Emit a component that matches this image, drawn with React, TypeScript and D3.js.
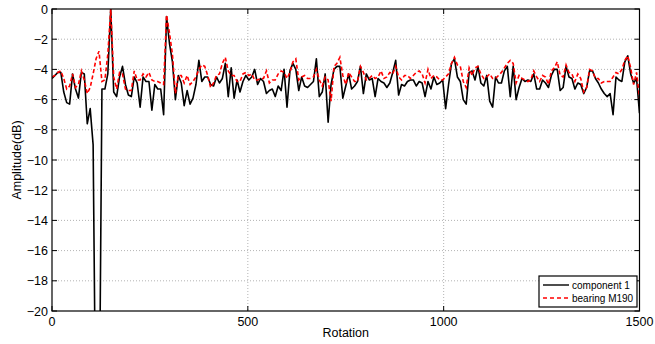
import React from "react";
import * as d3 from "d3";

// samples are taken every 7.5 rotations, 0..1500
const rotationStep = 7.5;

const component1 = [
  -4.6, -4.4, -4.2, -4.2, -5.5, -6.2, -6.3, -4.3, -5.3, -5.9,
  -4.2, -4.3, -7.6, -6.6, -9.0, -30, -30, -5.3, -5.3, -4.3,
  0, -5.5, -5.8, -4.5, -3.8, -5.0, -5.7, -5.8, -4.5, -4.9,
  -6.5, -4.5, -4.8, -4.8, -6.7, -5.0, -5.3, -5.3, -7.0, -0.5,
  -2.3, -3.5, -6.0, -4.4, -4.9, -6.4, -5.4, -6.3, -5.9, -5.0,
  -3.4, -4.8, -4.5, -4.5, -5.0, -5.1, -4.5, -4.9, -4.6, -3.6,
  -5.8, -3.9, -5.9, -4.7, -5.5, -4.8, -4.4, -4.7, -4.5, -4.0,
  -5.0, -4.6, -4.8, -5.6, -5.4, -5.3, -5.8, -5.1, -5.4, -4.0,
  -6.5, -4.1, -3.6, -4.0, -5.4, -4.5, -5.1, -5.2, -5.0, -4.8,
  -3.3, -5.8, -5.5, -4.3, -7.5, -5.0, -4.0, -3.8, -3.8, -5.9,
  -5.1, -4.3, -5.3, -5.1, -4.8, -3.8, -5.6, -4.3, -4.7, -4.6,
  -5.8, -4.6, -4.8, -4.9, -5.2, -4.9, -4.2, -3.4, -5.7, -5.0,
  -5.1, -4.8, -4.7, -4.7, -5.1, -4.8, -4.9, -5.8, -4.8, -5.3,
  -4.5, -5.0, -4.9, -4.7, -6.6, -5.0, -3.6, -3.3, -4.5, -4.8,
  -6.0, -6.3, -4.2, -4.1, -4.7, -3.8, -4.9, -5.1, -4.4, -6.1,
  -6.5, -4.5, -4.9, -4.9, -4.1, -3.8, -5.8, -3.8, -6.0, -5.2,
  -4.6, -4.8, -4.7, -4.8, -4.3, -5.3, -5.3, -4.7, -4.9, -5.2,
  -4.4, -4.0, -4.0, -5.4, -5.2, -3.8, -4.5, -4.6, -5.3, -4.9,
  -5.0, -5.6, -5.2, -4.1, -4.1, -4.6, -4.9, -5.3, -5.6, -5.8,
  -5.6, -7.0, -4.5, -4.7, -4.8, -3.5, -3.1, -4.3, -4.9, -4.6, -6.9,
];

const bearingM190 = [
  -4.5, -4.4, -4.2, -4.1, -4.6, -5.3, -5.1, -4.3, -5.2, -5.0,
  -4.1, -4.7, -5.6, -5.2, -4.3, -3.3, -2.8, -4.8, -4.7, -3.0,
  0, -4.5, -5.3, -4.2, -4.3, -5.3, -5.4, -5.4, -4.1, -4.7,
  -4.7, -4.3, -4.5, -4.2, -4.7, -4.8, -4.8, -4.9, -5.0, -0.4,
  -1.6, -3.0, -5.6, -4.4, -4.4, -4.9, -4.4, -5.0, -4.8, -4.5,
  -4.0, -3.7, -3.8, -4.4, -5.2, -4.9, -4.4, -4.3, -3.6, -3.2,
  -4.1, -4.4, -4.4, -4.8, -4.8, -4.3, -4.2, -4.4, -4.3, -4.7,
  -4.7, -4.6, -4.6, -4.1, -4.9, -4.7, -4.7, -4.3, -4.1, -4.2,
  -4.6, -4.2, -3.5, -3.3, -4.7, -4.5, -4.4, -4.6, -4.6, -4.5,
  -4.0, -4.7, -5.1, -4.5, -4.7, -6.1, -3.8, -3.6, -3.2, -4.4,
  -5.0, -4.2, -4.5, -4.8, -4.8, -3.8, -4.2, -4.7, -4.6, -4.4,
  -4.6, -4.5, -4.1, -4.6, -4.5, -4.2, -4.3, -3.8, -4.5, -4.7,
  -4.4, -4.4, -4.6, -4.4, -4.2, -4.1, -4.3, -4.9, -4.0, -4.6,
  -4.4, -4.5, -4.7, -4.7, -4.5, -4.3, -3.6, -3.2, -3.7, -3.8,
  -4.8, -5.2, -3.9, -4.4, -3.9, -3.8, -4.3, -4.6, -4.5, -4.3,
  -4.6, -4.6, -4.4, -4.2, -3.9, -3.6, -3.4, -3.6, -4.9, -4.4,
  -4.6, -4.7, -4.8, -4.7, -4.1, -4.5, -4.8, -4.4, -4.5, -5.0,
  -4.1, -3.9, -3.5, -4.4, -4.5, -3.7, -4.2, -4.3, -4.8, -4.3,
  -4.6, -5.5, -5.2, -4.0, -4.1, -4.6, -4.6, -4.9, -4.8, -4.8,
  -4.8, -4.5, -4.2, -4.3, -4.0, -3.4, -3.1, -3.9, -5.0, -4.2, -5.9,
];

const xTicks = [0, 500, 1000, 1500];
const yTicks = [0, -2, -4, -6, -8, -10, -12, -14, -16, -18, -20];

const font = "'Liberation Sans', Arial, Helvetica, sans-serif";

export default function App() {
  const width = 655;
  const height = 344;
  const left = 52;
  const right = 639.5;
  const top = 9;
  const bottom = 311;

  const x = d3.scaleLinear().domain([0, 1500]).range([left, right]);
  const y = d3.scaleLinear().domain([-20, 0]).range([bottom, top]);
  const fmt = d3.format("d");

  const line = d3
    .line<number>()
    .x((d, i) => x(i * rotationStep))
    .y((d) => y(d));

  const tick = 5;

  return (
    <svg
      width={width}
      height={height}
      style={{ position: "absolute", left: 0, top: 0, background: "#fff" }}
      fontFamily={font}
    >
      <defs>
        <clipPath id="plot">
          <rect x={left} y={top} width={right - left} height={bottom - top} />
        </clipPath>
      </defs>
      <rect x={left} y={top} width={right - left} height={bottom - top} fill="#fff" />

      {/* dotted grid */}
      {xTicks.slice(1, -1).map((t) => (
        <line key={"gx" + t} x1={x(t)} x2={x(t)} y1={top} y2={bottom}
          stroke="#a0a0a0" strokeWidth={0.8} strokeDasharray="1,2" />
      ))}
      {yTicks.slice(1, -1).map((t) => (
        <line key={"gy" + t} x1={left} x2={right} y1={y(t)} y2={y(t)}
          stroke="#a0a0a0" strokeWidth={0.8} strokeDasharray="1,2" />
      ))}

      <g clipPath="url(#plot)">
        <path d={line(component1) || ""} fill="none" stroke="#000" strokeWidth={1.6} strokeLinejoin="round" />
        <path d={line(bearingM190) || ""} fill="none" stroke="#ff0000" strokeWidth={1.6} strokeDasharray="4,2.5" />
      </g>

      {/* axes box and inward ticks */}
      <rect x={left} y={top} width={right - left} height={bottom - top} fill="none" stroke="#000" strokeWidth={1.2} />
      {xTicks.map((t) => (
        <g key={"tx" + t}>
          <line x1={x(t)} x2={x(t)} y1={bottom} y2={bottom - tick} stroke="#000" />
          <line x1={x(t)} x2={x(t)} y1={top} y2={top + tick} stroke="#000" />
          <text x={x(t)} y={bottom + 15} textAnchor="middle" fontSize={12.5}>{fmt(t)}</text>
        </g>
      ))}
      {yTicks.map((t) => (
        <g key={"ty" + t}>
          <line x1={left} x2={left + tick} y1={y(t)} y2={y(t)} stroke="#000" />
          <line x1={right} x2={right - tick} y1={y(t)} y2={y(t)} stroke="#000" />
          <text x={left - 4} y={y(t) + 4.5} textAnchor="end" fontSize={12.5}>{fmt(t)}</text>
        </g>
      ))}

      <text x={(left + right) / 2} y={bottom + 26} textAnchor="middle" fontSize={12.5}>Rotation</text>
      <text transform={`translate(21, ${(top + bottom) / 2}) rotate(-90)`} textAnchor="middle" fontSize={12.5}>
        Amplitude(dB)
      </text>

      {/* legend */}
      <g transform="translate(539, 276)">
        <rect x={0} y={0} width={98} height={31} fill="#fff" stroke="#000" strokeWidth={1.2} />
        <line x1={4} x2={30} y1={9} y2={9} stroke="#000" strokeWidth={1.4} />
        <text x={33} y={12.5} fontSize={10}>component 1</text>
        <line x1={4} x2={30} y1={22} y2={22} stroke="#ff0000" strokeWidth={1.4} strokeDasharray="4,3" />
        <text x={33} y={25.5} fontSize={10}>bearing M190</text>
      </g>
    </svg>
  );
}
